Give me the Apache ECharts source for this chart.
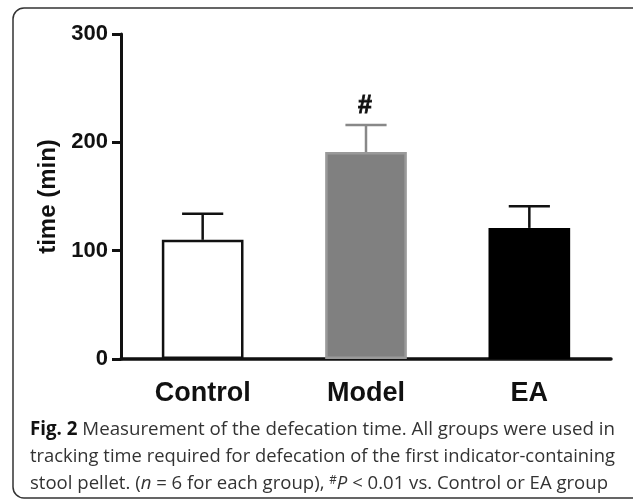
<!DOCTYPE html>
<html>
<head>
<meta charset="utf-8">
<script src="https://cdn.jsdelivr.net/npm/echarts@6/dist/echarts.min.js"></script>
<style>
  html, body { margin: 0; padding: 0; background: #fff; }
  #main { width: 633px; height: 500px; }
</style>
</head>
<body>
<div id="main"></div>
<script>
// group names and values (minutes)
const categories = ['Control', 'Model', 'EA'];
const meanTime = [110, 191, 121];
const semTime = [24, 25, 20];
const sigMarks = ['', '#', ''];
const yMin = 0, yMax = 300, yStep = 100;

// caption text, one entry per printed line
const captionLine1 = ['{b|Fig. 2}', ' Measurement of the defecation time. All groups were used in'];
const captionLine2 = ['tracking time required for defecation of the first indicator-containing'];
const captionLine3 = ['stool pellet. (', '{i|n}', ' = 6 for each group), ', '{sup|#}', '{i|P}', ' < 0.01 vs. Control or EA group'];

// per-bar styles
const barFill = ['#ffffff', '#808080', '#000000'];
const barEdge = ['#111111', '#9a9a9a', '#000000'];
const errColor = ['#111111', '#888888', '#111111'];

const axisFont = 'Liberation Sans';
const capFont = 'Open Sans';
const capSize = 19;

// horizontal squeeze so Open Sans fills the same width as the narrow caption face
const ctx = document.createElement('canvas').getContext('2d');
function tokenWidth(tok) {
  let m = tok.match(/^\{(\w+)\|(.*)\}$/);
  let font = capSize + 'px "' + capFont + '"';
  let txt = tok;
  if (m) {
    txt = m[2];
    if (m[1] == 'b') font = 'bold ' + font;
    if (m[1] == 'i') font = 'italic ' + font;
    if (m[1] == 'sup') font = '12px "' + capFont + '"';
  }
  ctx.font = font;
  return ctx.measureText(txt).width;
}
function squeeze(parts, target) {
  let w = 0;
  parts.forEach(p => { w += tokenWidth(p); });
  return target / w;
}

const capRich = {
  b: { fontWeight: 'bold', fontSize: capSize, fontFamily: capFont, fill: '#111' },
  i: { fontStyle: 'italic', fontSize: capSize, fontFamily: capFont, fill: '#333' },
  sup: { fontSize: 12, fontFamily: capFont, fill: '#333', verticalAlign: 'top' }
};

function captionText(parts, y, target) {
  return {
    type: 'text',
    x: 30,
    y: y,
    scaleX: squeeze(parts, target),
    z: 10,
    style: {
      text: parts.join(''),
      rich: capRich,
      fontFamily: capFont,
      fontSize: capSize,
      fill: '#333',
      verticalAlign: 'middle'
    }
  };
}

const myChart = echarts.init(document.getElementById('main'), null, { renderer: 'canvas' });

let option = {
  animation: false,
  backgroundColor: '#fff',
  grid: {
    left: 121,
    right: 22,
    top: 34,
    bottom: 141
  },
  xAxis: {
    type: 'category',
    data: categories,
    axisLine: {
      lineStyle: { color: '#111', width: 3.5 }
    },
    axisTick: { show: false },
    axisLabel: {
      color: '#111',
      fontFamily: axisFont,
      fontWeight: 'bold',
      fontSize: 27,
      margin: 21
    }
  },
  yAxis: {
    type: 'value',
    min: yMin,
    max: yMax,
    interval: yStep,
    name: 'time (min)',
    nameLocation: 'middle',
    nameRotate: 90,
    nameGap: 61,
    nameTextStyle: {
      color: '#111',
      fontFamily: axisFont,
      fontWeight: 'bold',
      fontSize: 24
    },
    axisLine: {
      show: true,
      lineStyle: { color: '#111', width: 3 }
    },
    axisTick: {
      show: true,
      length: 9,
      lineStyle: { color: '#111', width: 3 }
    },
    axisLabel: {
      color: '#111',
      fontFamily: axisFont,
      fontWeight: 'bold',
      fontSize: 22,
      margin: 13
    },
    splitLine: { show: false }
  },
  series: [{
    name: 'mean',
    type: 'bar',
    barWidth: '50%',
    data: meanTime.map((v, i) => ({
      value: v,
      itemStyle: {
        color: barFill[i],
        borderColor: barEdge[i],
        borderWidth: i == 2 ? 0 : 2.5
      }
    })),
    z: 2
  }, {
    name: 'sem',
    type: 'custom',
    z: 3,
    data: categories.map((c, i) => [i, meanTime[i], semTime[i]]),
    encode: { x: 0, y: 1 },
    renderItem: function (params, api) {
      const i = api.value(0);
      const top = api.coord([i, api.value(1)]);
      const cap = api.coord([i, api.value(1) + api.value(2)]);
      const half = api.size([1, 0])[0] * 0.126;
      const st = { stroke: errColor[i], lineWidth: 2.5 };
      let kids = [{
        type: 'line',
        shape: { x1: top[0], y1: top[1], x2: cap[0], y2: cap[1] },
        style: st
      }, {
        type: 'line',
        shape: { x1: cap[0] - half, y1: cap[1], x2: cap[0] + half, y2: cap[1] },
        style: st
      }];
      if (sigMarks[i]) {
        kids.push({
          type: 'text',
          x: cap[0] - 1,
          y: cap[1] - 19,
          style: {
            text: sigMarks[i],
            fontFamily: axisFont,
            fontWeight: 'bold',
            fontSize: 25,
            fill: '#111',
            stroke: '#111',
            lineWidth: 0.8,
            align: 'center',
            verticalAlign: 'middle'
          }
        });
      }
      return { type: 'group', children: kids };
    }
  }],
  graphic: [{
    type: 'rect',
    z: 1,
    shape: { x: 13, y: 8, width: 660, height: 490, r: 11 },
    style: { fill: 'none', stroke: '#333', lineWidth: 1.5 }
  },
  captionText(captionLine1, 430, 585),
  captionText(captionLine2, 457, 585),
  captionText(captionLine3, 484, 578)
  ]
};

myChart.setOption(option);
</script>
</body>
</html>
